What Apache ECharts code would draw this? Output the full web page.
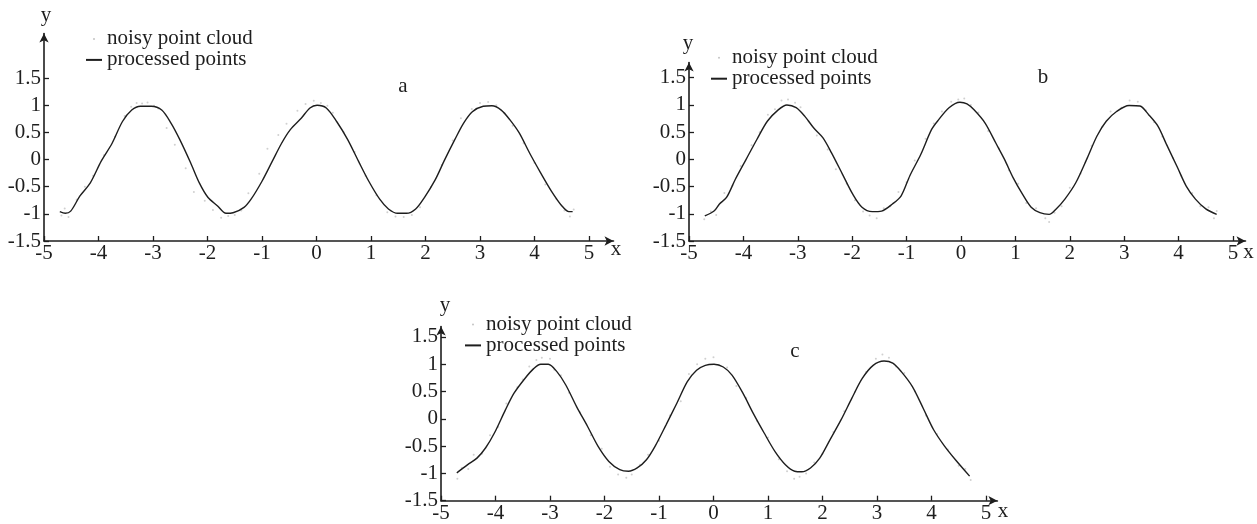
<!DOCTYPE html>
<html>
<head>
<meta charset="utf-8">
<script src="https://cdn.jsdelivr.net/npm/echarts@6/dist/echarts.min.js"></script>
<style>
  html, body { margin: 0; padding: 0; background: #fff; }
  #chart { width: 1257px; height: 524px; }
</style>
</head>
<body>
<div id="chart"></div>
<script>
// Tick values shared by the three panels
const xTicks = [-5, -4, -3, -2, -1, 0, 1, 2, 3, 4, 5];
const yTicks = [-1.5, -1, -0.5, 0, 0.5, 1, 1.5];

// Panel a: processed curve and raw noisy samples
const curveA = [
  [-4.71,-0.96],[-4.61,-0.99],[-4.51,-0.95],[-4.34,-0.67],[-4.15,-0.43],[-3.95,-0.03],
  [-3.75,0.30],[-3.56,0.70],[-3.39,0.91],[-3.23,0.98],[-3.03,0.98],[-2.84,0.91],
  [-2.67,0.67],[-2.51,0.37],[-2.31,-0.06],[-2.15,-0.43],[-1.99,-0.70],[-1.82,-0.85],
  [-1.66,-0.99],[-1.53,-0.98],[-1.33,-0.88],[-1.20,-0.73],[-1.00,-0.40],[-0.81,-0.03],
  [-0.64,0.30],[-0.48,0.55],[-0.28,0.76],[-0.12,0.95],[0.01,1.00],[0.18,0.95],
  [0.37,0.70],[0.57,0.37],[0.77,-0.03],[0.96,-0.40],[1.16,-0.73],[1.32,-0.91],
  [1.49,-0.99],[1.65,-0.99],[1.82,-0.91],[1.98,-0.70],[2.18,-0.37],[2.34,-0.03],
  [2.54,0.37],[2.70,0.67],[2.86,0.88],[3.06,0.98],[3.22,0.99],[3.39,0.91],
  [3.55,0.73],[3.72,0.49],[3.91,0.12],[4.11,-0.24],[4.31,-0.58],[4.50,-0.85],
  [4.63,-0.96],[4.70,-0.96]
];
const cloudA = [
  [-4.68,-1.03],[-4.55,-1.06],[-4.62,-0.90],[-4.40,-0.74],[-4.25,-0.50],[-4.10,-0.30],
  [-3.90,0.08],[-3.70,0.42],[-3.52,0.80],[-3.40,0.97],[-3.30,1.04],[-3.20,1.03],
  [-3.10,1.05],[-2.98,0.99],[-2.90,0.94],[-2.75,0.58],[-2.60,0.27],[-2.40,-0.16],
  [-2.25,-0.60],[-2.05,-0.76],[-1.90,-0.93],[-1.75,-1.07],[-1.62,-1.04],[-1.50,-1.02],
  [-1.38,-0.94],[-1.25,-0.62],[-1.05,-0.26],[-0.90,0.20],[-0.70,0.45],[-0.55,0.66],
  [-0.35,0.90],[-0.20,1.02],[-0.05,1.08],[0.08,1.04],[0.20,0.99],[0.30,0.86],
  [0.50,0.50],[0.70,0.14],[0.90,-0.30],[1.10,-0.66],[1.30,-0.97],[1.45,-1.05],
  [1.60,-1.06],[1.75,-1.02],[1.90,-0.88],[2.10,-0.50],[2.30,-0.10],[2.50,0.35],
  [2.65,0.76],[2.85,0.93],[3.00,1.04],[3.15,1.06],[3.30,1.00],[3.45,0.85],
  [3.60,0.62],[3.80,0.30],[4.00,-0.06],[4.20,-0.46],[4.40,-0.72],[4.55,-0.94],
  [4.65,-1.05],[4.72,-0.92]
];

// Panel b
const curveB = [
  [-4.71,-1.04],[-4.54,-0.95],[-4.44,-0.82],[-4.31,-0.70],[-4.15,-0.37],[-3.95,0.00],
  [-3.75,0.37],[-3.56,0.70],[-3.36,0.91],[-3.20,1.00],[-3.03,0.95],[-2.87,0.79],
  [-2.71,0.58],[-2.54,0.40],[-2.38,0.12],[-2.18,-0.27],[-1.99,-0.64],[-1.82,-0.88],
  [-1.63,-0.96],[-1.46,-0.95],[-1.26,-0.82],[-1.10,-0.67],[-0.94,-0.30],[-0.74,0.09],
  [-0.54,0.55],[-0.41,0.73],[-0.22,0.95],[-0.02,1.05],[0.11,1.02],[0.24,0.91],
  [0.44,0.67],[0.64,0.30],[0.80,0.00],[0.96,-0.34],[1.13,-0.64],[1.29,-0.88],
  [1.45,-0.98],[1.62,-1.01],[1.75,-0.91],[1.91,-0.73],[2.11,-0.43],[2.31,0.00],
  [2.50,0.43],[2.67,0.70],[2.86,0.88],[3.09,0.99],[3.29,0.98],[3.45,0.82],
  [3.62,0.61],[3.78,0.27],[3.98,-0.15],[4.14,-0.49],[4.31,-0.73],[4.50,-0.91],
  [4.70,-1.01]
];
const cloudB = [
  [-4.72,-1.10],[-4.60,-0.96],[-4.50,-1.02],[-4.35,-0.62],[-4.20,-0.48],[-4.05,-0.12],
  [-3.85,0.26],[-3.70,0.50],[-3.55,0.82],[-3.42,0.92],[-3.30,1.08],[-3.18,1.10],
  [-3.05,1.04],[-2.95,0.96],[-2.80,0.70],[-2.65,0.44],[-2.45,0.18],[-2.30,-0.18],
  [-2.10,-0.45],[-1.95,-0.75],[-1.80,-0.96],[-1.68,-1.03],[-1.55,-1.08],[-1.42,-0.90],
  [-1.30,-0.86],[-1.15,-0.60],[-1.00,-0.42],[-0.85,-0.02],[-0.65,0.38],[-0.50,0.66],
  [-0.35,0.88],[-0.18,1.06],[-0.05,1.10],[0.06,1.12],[0.18,1.00],[0.32,0.86],
  [0.50,0.52],[0.70,0.20],[0.88,-0.20],[1.05,-0.45],[1.20,-0.80],[1.38,-0.90],
  [1.55,-1.08],[1.62,-1.15],[1.72,-0.98],[1.85,-0.86],[2.00,-0.52],[2.20,-0.26],
  [2.40,0.25],[2.60,0.60],[2.75,0.88],[2.95,0.95],[3.10,1.08],[3.25,1.06],
  [3.40,0.90],[3.55,0.68],[3.70,0.42],[3.90,0.02],[4.05,-0.30],[4.25,-0.62],
  [4.40,-0.86],[4.55,-0.88],[4.65,-1.08],[4.70,-0.95]
];

// Panel c
const curveC = [
  [-4.71,-0.99],[-4.51,-0.84],[-4.34,-0.72],[-4.18,-0.53],[-4.02,-0.26],[-3.82,0.16],
  [-3.66,0.47],[-3.46,0.74],[-3.30,0.92],[-3.17,1.00],[-3.03,1.00],[-2.87,0.86],
  [-2.71,0.62],[-2.51,0.22],[-2.31,-0.14],[-2.12,-0.50],[-1.92,-0.78],[-1.72,-0.93],
  [-1.56,-0.96],[-1.40,-0.90],[-1.23,-0.75],[-1.07,-0.50],[-0.87,-0.11],[-0.67,0.29],
  [-0.48,0.68],[-0.31,0.89],[-0.15,0.98],[0.01,1.00],[0.18,0.95],[0.34,0.80],
  [0.54,0.47],[0.73,0.10],[0.93,-0.26],[1.13,-0.60],[1.32,-0.84],[1.49,-0.96],
  [1.62,-0.97],[1.78,-0.90],[1.95,-0.72],[2.14,-0.38],[2.34,-0.02],[2.54,0.38],
  [2.73,0.74],[2.93,0.98],[3.13,1.06],[3.29,1.02],[3.45,0.86],[3.65,0.59],
  [3.85,0.19],[4.04,-0.20],[4.24,-0.50],[4.44,-0.75],[4.70,-1.05]
];
const cloudC = [
  [-4.70,-1.10],[-4.62,-0.90],[-4.50,-0.92],[-4.40,-0.66],[-4.25,-0.64],[-4.10,-0.30],
  [-3.95,-0.15],[-3.80,0.28],[-3.60,0.58],[-3.50,0.72],[-3.38,0.96],[-3.25,1.08],
  [-3.15,1.12],[-3.00,1.10],[-2.92,0.90],[-2.80,0.80],[-2.65,0.48],[-2.45,0.12],
  [-2.25,-0.30],[-2.05,-0.55],[-1.90,-0.88],[-1.75,-1.02],[-1.60,-1.08],[-1.50,-1.02],
  [-1.35,-0.84],[-1.20,-0.66],[-1.00,-0.40],[-0.80,0.06],[-0.60,0.32],[-0.45,0.82],
  [-0.30,1.00],[-0.15,1.10],[0.00,1.13],[0.10,0.98],[0.25,0.94],[0.42,0.60],
  [0.60,0.38],[0.80,-0.04],[1.00,-0.34],[1.20,-0.74],[1.35,-0.96],[1.48,-1.10],
  [1.58,-1.06],[1.70,-1.00],[1.85,-0.80],[2.00,-0.64],[2.20,-0.24],[2.40,0.14],
  [2.60,0.50],[2.80,0.86],[2.98,1.10],[3.10,1.18],[3.22,1.12],[3.35,0.96],
  [3.50,0.84],[3.70,0.50],[3.90,0.06],[4.10,-0.28],[4.30,-0.56],[4.50,-0.86],
  [4.62,-0.92],[4.72,-1.12]
];

const panelLabels = ['a', 'b', 'c'];
const cloudName = 'noisy point cloud';
const curveName = 'processed points';

const FONT = "'Liberation Serif', 'Times New Roman', serif";
const INK = '#1e1e1e';
const FS = 21;

// Layout of each panel: grid box in pixels plus axis end values (arrow room)
const panels = [
  { grid: { left: 44, top: 33.5, width: 569.5, height: 207.5 }, xMax: 5.45, yMax: 2.32,
    legend: { left: 86, top: 28.4 }, curve: curveA, cloud: cloudA,
    tag: [403, 86.2], xName: [616, 249.6], yName: [46, 15.1] },
  { grid: { left: 689, top: 62.5, width: 556.5, height: 178.5 }, xMax: 5.23, yMax: 1.78,
    legend: { left: 711, top: 47.2 }, curve: curveB, cloud: cloudB,
    tag: [1043, 77.9], xName: [1248.5, 252.9], yName: [688, 43.3] },
  { grid: { left: 441, top: 326.6, width: 556.4, height: 174.1 }, xMax: 5.21, yMax: 1.69,
    legend: { left: 465, top: 313.9 }, curve: curveC, cloud: cloudC,
    tag: [795, 351.2], xName: [1003, 511.2], yName: [445, 305] }
];

const axisLine = {
  show: true,
  onZero: false,
  symbol: ['none', 'arrow'],
  symbolSize: [7, 9],
  lineStyle: { color: INK, width: 1.6 }
};

const option = {
  backgroundColor: '#ffffff',
  animation: false,
  grid: panels.map(p => Object.assign({ containLabel: false }, p.grid)),
  xAxis: panels.map((p, i) => ({
    type: 'value', gridIndex: i, min: -5, max: p.xMax,
    axisLine: axisLine,
    axisTick: { show: true, inside: true, length: 5, customValues: xTicks,
                lineStyle: { color: INK, width: 1.3 } },
    axisLabel: { customValues: xTicks, margin: 2, color: INK, fontFamily: FONT, fontSize: FS },
    splitLine: { show: false }
  })),
  yAxis: panels.map((p, i) => ({
    type: 'value', gridIndex: i, min: -1.5, max: p.yMax,
    axisLine: axisLine,
    axisTick: { show: true, inside: true, length: 5, customValues: yTicks,
                lineStyle: { color: INK, width: 1.3 } },
    axisLabel: { customValues: yTicks, margin: 3, color: INK, fontFamily: FONT, fontSize: FS },
    splitLine: { show: false }
  })),
  legend: panels.map(p => ({
    left: p.legend.left, top: p.legend.top,
    orient: 'vertical', padding: 0, itemGap: 0,
    itemWidth: 16, itemHeight: 2,
    selectedMode: false,
    textStyle: { fontFamily: FONT, fontSize: FS, color: INK, lineHeight: 18 },
    data: [
      { name: cloudName, icon: 'circle', itemStyle: { color: '#b5b5b5' } },
      { name: curveName, icon: 'rect' }
    ]
  })),
  series: panels.flatMap((p, i) => [
    {
      name: cloudName, type: 'scatter', xAxisIndex: i, yAxisIndex: i,
      data: p.cloud, symbol: 'circle', symbolSize: 2,
      itemStyle: { color: '#c4c4c4' }, silent: true, z: 1
    },
    {
      name: curveName, type: 'line', xAxisIndex: i, yAxisIndex: i,
      data: p.curve, showSymbol: false, symbol: 'none', smooth: 0.3,
      lineStyle: { color: INK, width: 1.4 },
      itemStyle: { color: INK }, silent: true, z: 2
    }
  ]),
  graphic: panels.flatMap((p, i) => [
    { type: 'text', x: p.tag[0], y: p.tag[1], silent: true,
      style: { text: panelLabels[i], fill: INK, font: FS + 'px ' + FONT, align: 'center', verticalAlign: 'middle' } },
    { type: 'text', x: p.xName[0], y: p.xName[1], silent: true,
      style: { text: 'x', fill: INK, font: FS + 'px ' + FONT, align: 'center', verticalAlign: 'middle' } },
    { type: 'text', x: p.yName[0], y: p.yName[1], silent: true,
      style: { text: 'y', fill: INK, font: FS + 'px ' + FONT, align: 'center', verticalAlign: 'middle' } }
  ])
};

const chart = echarts.init(document.getElementById('chart'), null, { renderer: 'canvas' });
chart.setOption(option);
</script>
</body>
</html>
